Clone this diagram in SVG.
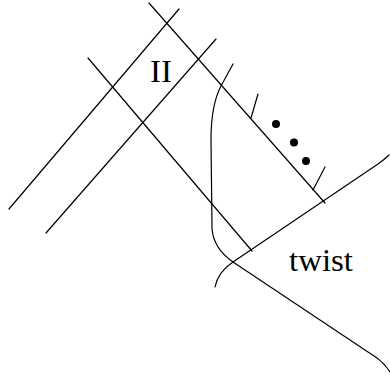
<svg xmlns="http://www.w3.org/2000/svg" width="390" height="387" viewBox="0 0 390 387">
<style>
.l{fill:none;stroke:#000;stroke-width:1.2;stroke-linecap:round}
.t{font-family:"Liberation Serif","DejaVu Serif",serif;font-size:31px;fill:#000}
.d{fill:#000}
</style>
<rect width="390" height="387" fill="#fff"/>
<g id="connectors">
<line class="l" x1="9" y1="209" x2="179" y2="9"/>
<line class="l" x1="46" y1="233" x2="216" y2="39"/>
<line class="l" x1="149" y1="3" x2="325" y2="203"/>
<line class="l" x1="88" y1="58" x2="252" y2="251"/>
<path class="l" d="M233,64 L221,86 Q211,105 211,140 L212,228 Q213,248 233,262 L377,358 Q385,364 390,372"/>
<path class="l" d="M215,287 Q218,272 233,262 L378,164 Q385,159 389,155"/>
<line class="l" x1="251" y1="118" x2="258" y2="94"/>
<line class="l" x1="313" y1="190" x2="325" y2="167"/>
</g>
<g id="dots">
<circle class="d" cx="276" cy="124" r="4"/>
<circle class="d" cx="294" cy="142.5" r="4"/>
<circle class="d" cx="306" cy="161" r="4"/>
</g>
<g id="label-II"><text class="t" x="150" y="82" textLength="22" lengthAdjust="spacingAndGlyphs">II</text></g>
<g id="label-twist"><text class="t" x="289" y="271" textLength="64" lengthAdjust="spacingAndGlyphs">twist</text></g>
</svg>
